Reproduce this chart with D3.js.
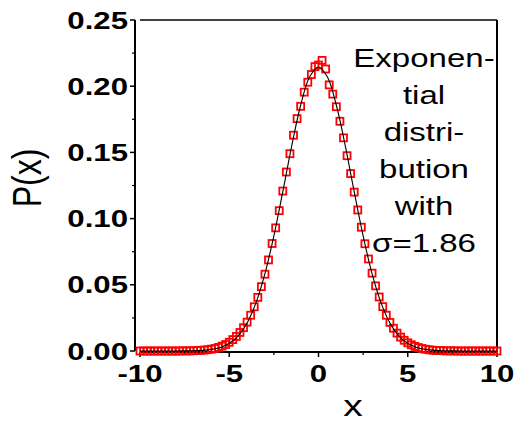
<!DOCTYPE html>
<html>
<head>
<meta charset="utf-8">
<script src="https://cdn.jsdelivr.net/npm/d3@7"></script>
<style>
  html, body { margin: 0; padding: 0; background: #fff; }
  svg { display: block; }
  text { font-family: "Liberation Sans", Arial, sans-serif; fill: #000; }
</style>
</head>
<body>
<svg id="chart" width="516" height="423"></svg>
<script>
// Sampled distribution P(x)
const xValues = [
  -10.0, -9.8, -9.6, -9.4, -9.2, -9.0, -8.8, -8.6, -8.4, -8.2,
  -8.0, -7.8, -7.6, -7.4, -7.2, -7.0, -6.8, -6.6, -6.4, -6.2,
  -6.0, -5.8, -5.6, -5.4, -5.2, -5.0, -4.8, -4.6, -4.4, -4.2,
  -4.0, -3.8, -3.6, -3.4, -3.2, -3.0, -2.8, -2.6, -2.4, -2.2,
  -2.0, -1.8, -1.6, -1.4, -1.2, -1.0, -0.8, -0.6, -0.4, -0.2,
  0.0, 0.2, 0.4, 0.6, 0.8, 1.0, 1.2, 1.4, 1.6, 1.8,
  2.0, 2.2, 2.4, 2.6, 2.8, 3.0, 3.2, 3.4, 3.6, 3.8,
  4.0, 4.2, 4.4, 4.6, 4.8, 5.0, 5.2, 5.4, 5.6, 5.8,
  6.0, 6.2, 6.4, 6.6, 6.8, 7.0, 7.2, 7.4, 7.6, 7.8,
  8.0, 8.2, 8.4, 8.6, 8.8, 9.0, 9.2, 9.4, 9.6, 9.8, 10.0
];
const pValues = [
  0.0000, 0.0000, 0.0000, 0.0000, 0.0000, 0.0000, 0.0000, 0.0000, 0.0000, 0.0000,
  0.0000, 0.0000, 0.0001, 0.0001, 0.0001, 0.0002, 0.0003, 0.0005, 0.0007, 0.0010,
  0.0014, 0.0019, 0.0027, 0.0037, 0.0049, 0.0066, 0.0086, 0.0110, 0.0140, 0.0176,
  0.0218, 0.0270, 0.0334, 0.0405, 0.0486, 0.0580, 0.0688, 0.0812, 0.0930, 0.1060,
  0.1208, 0.1352, 0.1490, 0.1630, 0.1755, 0.1848, 0.1955, 0.2030, 0.2088, 0.2148,
  0.2160, 0.2195, 0.2130, 0.2010, 0.1940, 0.1845, 0.1735, 0.1610, 0.1475, 0.1340,
  0.1200, 0.1065, 0.0935, 0.0810, 0.0695, 0.0588, 0.0492, 0.0408, 0.0335, 0.0270,
  0.0216, 0.0172, 0.0135, 0.0105, 0.0081, 0.0062, 0.0047, 0.0035, 0.0026, 0.0019,
  0.0013, 0.0009, 0.0006, 0.0004, 0.0003, 0.0002, 0.0001, 0.0001, 0.0001, 0.0000,
  0.0000, 0.0000, 0.0000, 0.0000, 0.0000, 0.0000, 0.0000, 0.0000, 0.0000, 0.0000, 0.0000
];

// Fitted curve
const fitX = [
  -10, -9.5, -9, -8.5, -8, -7.5, -7, -6.5, -6, -5.5,
  -5, -4.5, -4, -3.5, -3, -2.5, -2, -1.5, -1, -0.5,
  0, 0.5, 1, 1.5, 2, 2.5, 3, 3.5, 4, 4.5,
  5, 5.5, 6, 6.5, 7, 7.5, 8, 8.5, 9, 9.5, 10
];
const fitP = [
  0, 0, 0, 0, 0, 0.0001, 0.0002, 0.0005, 0.0012, 0.0027,
  0.0058, 0.0115, 0.0212, 0.0365, 0.0584, 0.0869, 0.1203, 0.1550, 0.1856, 0.2069,
  0.2145, 0.2069, 0.1856, 0.1550, 0.1203, 0.0869, 0.0584, 0.0365, 0.0212, 0.0115,
  0.0058, 0.0027, 0.0012, 0.0005, 0.0002, 0.0001, 0, 0, 0, 0, 0
];

const xTicks = [-10, -5, 0, 5, 10];
const xMinorTicks = [-7.5, -2.5, 2.5, 7.5];
const yTicks = [0, 0.05, 0.10, 0.15, 0.20, 0.25];
const yMinorTicks = [0.025, 0.075, 0.125, 0.175, 0.225];
const noteLines = ["Exponen-", "tial", "distri-", "bution", "with", "\u03c3=1.86"];

const svg = d3.select("#chart");
const plotLeft = 140, plotRight = 497, plotTop = 20, plotBottom = 351;
const x = d3.scaleLinear().domain([-10, 10]).range([plotLeft, plotRight]);
const y = d3.scaleLinear().domain([0, 0.25]).range([plotBottom, plotTop]);
const SX = 1.3; // horizontal widening of all lettering

// frame (top and right)
svg.append("line").attr("x1", plotLeft).attr("x2", plotRight).attr("y1", plotTop).attr("y2", plotTop)
  .attr("stroke", "#000").attr("stroke-width", 1.6);
svg.append("line").attr("x1", plotRight).attr("x2", plotRight).attr("y1", plotTop).attr("y2", plotBottom + 1)
  .attr("stroke", "#000").attr("stroke-width", 2);

// y axis, set slightly left of the plot area
const yAxisX = 135;
const gy = svg.append("g").attr("transform", `translate(${yAxisX},0)`);
gy.append("line").attr("x1", 0).attr("x2", 0).attr("y1", y(0.25)).attr("y2", y(0))
  .attr("stroke", "#000").attr("stroke-width", 2);
gy.selectAll("line.maj").data(yTicks).join("line").attr("class", "maj")
  .attr("x1", -5).attr("x2", 0).attr("y1", d => y(d)).attr("y2", d => y(d))
  .attr("stroke", "#000").attr("stroke-width", 1.5);
gy.selectAll("line.min").data(yMinorTicks).join("line").attr("class", "min")
  .attr("x1", -3).attr("x2", 0).attr("y1", d => y(d)).attr("y2", d => y(d))
  .attr("stroke", "#000").attr("stroke-width", 1.2);
gy.selectAll("g.lab").data(yTicks).join("g").attr("class", "lab")
  .attr("transform", d => `translate(-7,${y(d)}) scale(${SX},1)`)
  .append("text").attr("text-anchor", "end").attr("dy", "0.36em")
  .attr("font-size", 24).attr("font-weight", "bold")
  .text(d => d3.format(".2f")(d));

// x axis, set slightly below the plot area
const xAxisY = 352;
const gx = svg.append("g").attr("transform", `translate(0,${xAxisY})`);
gx.append("line").attr("x1", x(-10)).attr("x2", x(10)).attr("y1", 0).attr("y2", 0)
  .attr("stroke", "#000").attr("stroke-width", 2);
gx.selectAll("line.maj").data(xTicks).join("line").attr("class", "maj")
  .attr("x1", d => x(d)).attr("x2", d => x(d)).attr("y1", 0).attr("y2", 5)
  .attr("stroke", "#000").attr("stroke-width", 1.5);
gx.selectAll("line.min").data(xMinorTicks).join("line").attr("class", "min")
  .attr("x1", d => x(d)).attr("x2", d => x(d)).attr("y1", 0).attr("y2", 3)
  .attr("stroke", "#000").attr("stroke-width", 1.2);
gx.selectAll("g.lab").data(xTicks).join("g").attr("class", "lab")
  .attr("transform", d => `translate(${x(d)},30) scale(${SX},1)`)
  .append("text").attr("text-anchor", "middle")
  .attr("font-size", 24).attr("font-weight", "bold")
  .text(d => d);

// axis titles
svg.append("g").attr("transform", `translate(353,416) scale(${SX},1)`)
  .append("text").attr("text-anchor", "middle").attr("font-size", 30).text("x");
svg.append("g").attr("transform", "translate(41,178) rotate(-90) scale(1,1.25)")
  .append("text").attr("text-anchor", "middle").attr("font-size", 32).text("P(x)");

// sampled points: open red squares
const pts = d3.range(xValues.length).map(i => ({ x: xValues[i], p: pValues[i] }));
svg.append("g").selectAll("rect").data(pts).join("rect")
  .attr("x", d => x(d.x) - 3.5).attr("y", d => y(d.p) - 3.5)
  .attr("width", 7).attr("height", 7)
  .attr("fill", "none").attr("stroke", "#ff0000").attr("stroke-width", 1.8);

// fitted curve
const fit = d3.range(fitX.length).map(i => [fitX[i], fitP[i]]);
svg.append("path").datum(fit)
  .attr("d", d3.line().x(d => x(d[0])).y(d => y(d[1])).curve(d3.curveCatmullRom))
  .attr("fill", "none").attr("stroke", "#000").attr("stroke-width", 1.1);

// annotation
const note = svg.append("g");
noteLines.forEach((t, i) => {
  note.append("g").attr("transform", `translate(424,${67 + i * 37}) scale(1.27,1)`)
    .append("text").attr("text-anchor", "middle").attr("font-size", 26).text(t);
});
</script>
</body>
</html>
